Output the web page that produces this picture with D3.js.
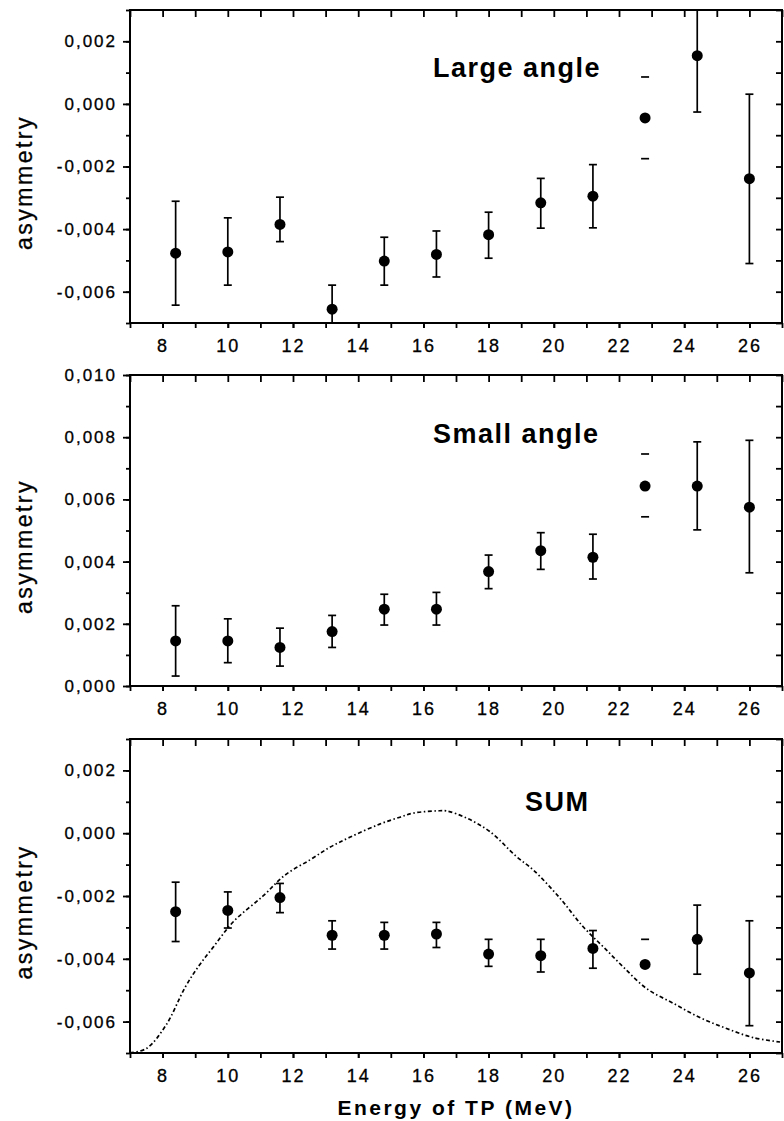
<!DOCTYPE html>
<html>
<head>
<meta charset="utf-8">
<script src="https://cdn.jsdelivr.net/npm/d3@7"></script>
<style>
  body { margin: 0; background: #fff; }
  svg { display: block; }
  text { font-family: 'Liberation Sans', Arial, sans-serif; fill: #000; }
</style>
</head>
<body>
<script>
// beam energy (MeV), same for all three panels
const energy = [8.4, 10, 11.6, 13.2, 14.8, 16.4, 18, 19.6, 21.2, 22.8, 24.4, 26];

// large angle
const largeVal = [-0.00477, -0.00473, -0.00385, -0.00656, -0.00502, -0.00481, -0.00418, -0.00316, -0.00295, -0.00045, 0.00154, -0.00239];
const largeHi  = [-0.00311, -0.00364, -0.00298, -0.00579, -0.00426, -0.00406, -0.00346, -0.00238, -0.00194, 0.00086, 0.00334, 0.00031];
const largeLo  = [-0.00643, -0.00579, -0.00440, -0.00733, -0.00579, -0.00553, -0.00493, -0.00397, -0.00396, -0.00175, -0.00026, -0.00510];

// small angle
const smallVal = [0.00145, 0.00145, 0.00124, 0.00175, 0.00247, 0.00247, 0.00368, 0.00435, 0.00414, 0.00643, 0.00643, 0.00575];
const smallHi  = [0.00258, 0.00216, 0.00186, 0.00227, 0.00295, 0.00301, 0.00421, 0.00493, 0.00488, 0.00746, 0.00785, 0.00790];
const smallLo  = [0.00032, 0.00075, 0.00064, 0.00124, 0.00196, 0.00196, 0.00313, 0.00375, 0.00344, 0.00544, 0.00502, 0.00364];

// sum
const sumVal = [-0.00250, -0.00246, -0.00205, -0.00325, -0.00325, -0.00321, -0.00385, -0.00390, -0.00367, -0.00418, -0.00338, -0.00445];
const sumHi  = [-0.00156, -0.00187, -0.00160, -0.00279, -0.00284, -0.00284, -0.00338, -0.00338, -0.00310, -0.00338, -0.00229, -0.00279];
const sumLo  = [-0.00345, -0.00302, -0.00253, -0.00369, -0.00369, -0.00364, -0.00424, -0.00442, -0.00430, null, -0.00449, -0.00613];

// point whose error bar is drawn with caps only
const capsOnlyEnergy = 22.8;

// calculated curve for the sum
const curveE = [7.0, 7.5, 8.1, 8.7, 9.13, 9.56, 10.17, 11.09, 11.76, 12.52, 13.13, 13.74, 14.66, 15.28, 15.69, 16.41, 16.71, 17.33, 18.04, 18.86, 19.37, 20.19, 20.9, 21.52, 22.13, 22.85, 23.67, 24.48, 25.3, 26.12, 26.94];
const curveA = [-0.00699, -0.00686, -0.00612, -0.00489, -0.0042, -0.00362, -0.00282, -0.00199, -0.00133, -0.00085, -0.00045, -0.00013, 0.00029, 0.00051, 0.00064, 0.00071, 0.00071, 0.00048, 0.00005, -0.00075, -0.00117, -0.00207, -0.00298, -0.00362, -0.00426, -0.00495, -0.00542, -0.00587, -0.00622, -0.00651, -0.00665];

const xDomain = [7, 27];
const xMajor = d3.range(8, 27, 2);
const xMinor = d3.range(7, 28, 1);
const yTicksNeg = [-0.006, -0.004, -0.002, 0, 0.002];
const yTicksPos = [0, 0.002, 0.004, 0.006, 0.008, 0.010];

const W = 784, H = 1121;
const left = 130, right = 782;

const panels = [
  { title: 'Large angle', titleX: 433, titleDy: 67, top: 10, bottom: 323,
    domain: [-0.007, 0.003], ticks: yTicksNeg, val: largeVal, hi: largeHi, lo: largeLo },
  { title: 'Small angle', titleX: 433, titleDy: 68, top: 375, bottom: 686,
    domain: [0, 0.010], ticks: yTicksPos, val: smallVal, hi: smallHi, lo: smallLo },
  { title: 'SUM', titleX: 525, titleDy: 72, top: 739, bottom: 1053,
    domain: [-0.007, 0.003], ticks: yTicksNeg, val: sumVal, hi: sumHi, lo: sumLo, curve: true }
];

const fmt = v => (v < -1e-9 ? '-' : '') + Math.abs(v).toFixed(3).replace('.', ',');

const svg = d3.select('body').append('svg')
  .attr('width', W)
  .attr('height', H);

const x = d3.scaleLinear().domain(xDomain).range([left, right]);

panels.forEach((p, i) => {
  const y = d3.scaleLinear().domain(p.domain).range([p.bottom, p.top]);
  const yMinor = d3.range(Math.round(p.domain[0] * 1000), Math.round(p.domain[1] * 1000) + 1).map(k => k / 1000);
  const g = svg.append('g');

  const clipId = 'clip' + i;
  svg.append('clipPath').attr('id', clipId)
    .append('rect')
    .attr('x', left).attr('y', p.top)
    .attr('width', right - left).attr('height', p.bottom - p.top);

  // left axis
  g.append('g')
    .attr('transform', `translate(${left},0)`)
    .call(d3.axisLeft(y).tickValues(yMinor).tickSize(4).tickFormat(''))
    .call(a => a.select('.domain').remove());
  g.append('g')
    .attr('class', 'ylab')
    .attr('transform', `translate(${left},0)`)
    .call(d3.axisLeft(y).tickValues(p.ticks).tickSize(7).tickPadding(6).tickFormat(fmt))
    .call(a => a.select('.domain').remove());

  // right axis (inward)
  g.append('g')
    .attr('transform', `translate(${right},0)`)
    .call(d3.axisRight(y).tickValues(yMinor).tickSize(-6).tickFormat(''))
    .call(a => a.select('.domain').remove());

  // top axis (inward)
  g.append('g')
    .attr('transform', `translate(0,${p.top})`)
    .call(d3.axisTop(x).tickValues(xMinor).tickSize(-7).tickFormat(''))
    .call(a => a.select('.domain').remove());

  // bottom axis
  g.append('g')
    .attr('transform', `translate(0,${p.bottom})`)
    .call(d3.axisBottom(x).tickValues(xMinor).tickSize(5).tickFormat(''))
    .call(a => a.select('.domain').remove());
  g.append('g')
    .attr('class', 'xlab')
    .attr('transform', `translate(0,${p.bottom})`)
    .call(d3.axisBottom(x).tickValues(xMajor).tickSize(5).tickPadding(11).tickFormat(d3.format('d')))
    .call(a => a.select('.domain').remove());

  g.selectAll('.tick line').attr('stroke', '#000').attr('stroke-width', 1.8);
  g.selectAll('.ylab text, .xlab text')
    .attr('font-family', "'Liberation Sans', Arial, sans-serif")
    .attr('font-size', 17)
    .attr('letter-spacing', 2)
    .attr('fill', '#000')
    .attr('stroke', '#000')
    .attr('stroke-width', 0.3);
  g.selectAll('.xlab text').attr('font-size', 18);

  // frame
  g.append('rect')
    .attr('x', left).attr('y', p.top)
    .attr('width', right - left).attr('height', p.bottom - p.top)
    .attr('fill', 'none')
    .attr('stroke', '#000')
    .attr('stroke-width', 2);

  // title
  g.append('text')
    .attr('x', p.titleX)
    .attr('y', p.top + p.titleDy)
    .attr('font-size', 27)
    .attr('font-weight', 'bold')
    .attr('letter-spacing', 1.5)
    .text(p.title);

  // y label
  g.append('text')
    .attr('transform', `translate(32,${(p.top + p.bottom) / 2 + 16}) rotate(-90)`)
    .attr('text-anchor', 'middle')
    .attr('font-size', 23)
    .attr('letter-spacing', 2.5)
    .attr('stroke', '#000')
    .attr('stroke-width', 0.3)
    .text('asymmetry');

  const plot = g.append('g').attr('clip-path', `url(#${clipId})`);

  // curve
  if (p.curve) {
    const pts = curveE.map((e, k) => [e, curveA[k]]);
    plot.append('path')
      .datum(pts)
      .attr('fill', 'none')
      .attr('stroke', '#000')
      .attr('stroke-width', 1.7)
      .attr('stroke-dasharray', '4,2.5,1.5,2.5')
      .attr('d', d3.line().x(d => x(d[0])).y(d => y(d[1])).curve(d3.curveCatmullRom));
  }

  // error bars
  const pts = energy.map((e, k) => ({ e, v: p.val[k], hi: p.hi[k], lo: p.lo[k] }));
  const bars = plot.selectAll('.eb').data(pts).join('g').attr('class', 'eb')
    .attr('stroke', '#000').attr('stroke-width', 1.7);
  bars.filter(d => d.e !== capsOnlyEnergy).append('line')
    .attr('x1', d => x(d.e)).attr('x2', d => x(d.e))
    .attr('y1', d => y(d.hi)).attr('y2', d => y(d.lo));
  bars.append('line')
    .attr('x1', d => x(d.e) - 4).attr('x2', d => x(d.e) + 4)
    .attr('y1', d => y(d.hi)).attr('y2', d => y(d.hi));
  bars.filter(d => d.lo !== null).append('line')
    .attr('x1', d => x(d.e) - 4).attr('x2', d => x(d.e) + 4)
    .attr('y1', d => y(d.lo)).attr('y2', d => y(d.lo));

  // points
  plot.selectAll('.pt').data(pts).join('circle').attr('class', 'pt')
    .attr('cx', d => x(d.e))
    .attr('cy', d => y(d.v))
    .attr('r', 5.5)
    .attr('fill', '#000');
});

// x axis title
svg.append('text')
  .attr('x', (left + right) / 2)
  .attr('y', 1115)
  .attr('text-anchor', 'middle')
  .attr('font-size', 21)
  .attr('font-weight', 'bold')
  .attr('letter-spacing', 2.5)
  .text('Energy of TP (MeV)');
</script>
</body>
</html>
